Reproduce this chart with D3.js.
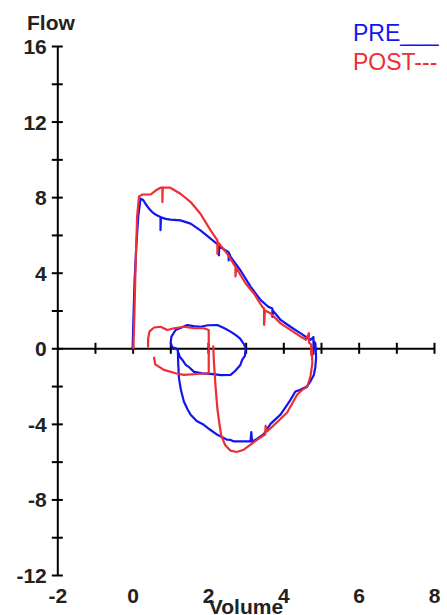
<!DOCTYPE html>
<html>
<head>
<meta charset="utf-8">
<script src="https://cdn.jsdelivr.net/npm/d3@7"></script>
<style>
  html, body { margin: 0; padding: 0; background: #fff; }
  svg { display: block; }
</style>
</head>
<body>
<script>
// ---- data: [volume, flow] pairs ----
const seriesNames = ["PRE", "POST"];
const xTickValues = [-2, 0, 2, 4, 6, 8];
const yTickValues = [-12, -10, -8, -6, -4, -2, 0, 2, 4, 6, 8, 10, 12, 14, 16];
const yTickLabels = [-12, -8, -4, 0, 4, 8, 12, 16];

const preExpiration = [[0,0],[0.02,1.5],[0.05,3.5],[0.1,5.5],[0.15,7.0],[0.21,7.92],[0.28,7.85],[0.34,7.65],[0.43,7.4],[0.52,7.21],[0.63,7.05],[0.74,6.95],[0.74,6.25],[0.75,6.93],[0.88,6.85],[1.0,6.81],[1.27,6.77],[1.54,6.6],[1.80,6.24],[2.07,5.8],[2.29,5.45],[2.29,4.92],[2.30,5.42],[2.45,5.2],[2.55,5.08],[2.55,4.65],[2.57,5.0],[2.6,4.84],[2.86,4.13],[3.13,3.26],[3.40,2.55],[3.6,2.2],[3.71,2.1],[3.71,1.66],[3.72,2.0],[3.93,1.5],[4.19,1.14],[4.46,0.79],[4.72,0.44],[4.8,0.6],[4.8,-0.3],[4.82,0.35],[4.85,0.26],[4.86,0.0]];
const preInspiration = [[4.86,0],[4.87,-0.5],[4.85,-1.0],[4.81,-1.41],[4.72,-1.75],[4.63,-2.02],[4.45,-2.2],[4.32,-2.29],[4.19,-2.73],[3.93,-3.5],[3.66,-4.0],[3.48,-4.55],[3.3,-4.8],[3.17,-4.93],[3.15,-4.44],[3.13,-4.93],[2.9,-4.93],[2.69,-4.93],[2.6,-4.85],[2.51,-4.84],[2.25,-4.58],[2.05,-4.3],[1.89,-4.05],[1.7,-3.85],[1.54,-3.52],[1.45,-3.2],[1.36,-2.82],[1.28,-2.2],[1.23,-1.58],[1.21,-0.8],[1.20,-0.1]];
const preTidal = [[1.20,-0.1],[1.15,0.0],[1.05,0.05],[1.01,0.3],[1.03,0.62],[1.14,0.97],[1.3,1.1],[1.45,1.23],[1.62,1.17],[1.8,1.14],[2.0,1.22],[2.25,1.23],[2.45,1.05],[2.6,0.88],[2.75,0.68],[2.86,0.5],[2.96,0.2],[3.0,0.0],[2.98,-0.4],[2.91,-0.6],[2.86,-0.88],[2.72,-1.2],[2.6,-1.41],[2.35,-1.42],[2.07,-1.35],[1.85,-1.33],[1.63,-1.25],[1.5,-1.0],[1.41,-0.88],[1.32,-0.62],[1.25,-0.45],[1.22,-0.25]];

const postExpiration = [[0.02,0],[0.05,2],[0.08,4.5],[0.12,7.0],[0.17,8.04],[0.26,8.14],[0.48,8.14],[0.61,8.35],[0.74,8.5],[0.79,8.5],[0.79,7.74],[0.80,8.5],[1.0,8.5],[1.27,8.18],[1.54,7.74],[1.80,7.12],[2.07,6.24],[2.25,5.71],[2.25,5.0],[2.27,5.6],[2.51,5.01],[2.73,4.31],[2.73,3.8],[2.75,4.25],[3.0,3.43],[3.22,2.9],[3.44,2.2],[3.49,2.1],[3.49,1.24],[3.51,2.0],[3.66,1.85],[3.93,1.32],[4.19,0.97],[4.46,0.62],[4.6,0.45],[4.68,0.8],[4.68,0.3],[4.74,0.2],[4.74,-0.35],[4.76,0.0]];
const postInspiration = [[4.76,-0.1],[4.77,-0.79],[4.72,-1.5],[4.63,-2.05],[4.5,-2.2],[4.37,-2.45],[4.1,-3.4],[3.84,-3.9],[3.57,-4.4],[3.53,-4.1],[3.52,-4.55],[3.3,-4.85],[3.13,-5.1],[2.95,-5.37],[2.76,-5.49],[2.6,-5.42],[2.45,-5.1],[2.35,-4.6],[2.29,-3.8],[2.25,-3.2],[2.2,-2.0],[2.16,-0.8],[2.14,0.1]];
const postTidalA = [[2.02,-1.32],[2.02,0.97],[1.89,1.06],[1.63,1.06],[1.36,1.14],[1.10,1.06],[0.92,0.97],[0.74,1.14],[0.57,1.1],[0.45,0.9],[0.41,0.5],[0.41,0.09]];
const postTidalB = [[0.57,-0.5],[0.6,-0.85],[0.83,-1.14],[1.14,-1.32],[1.36,-1.41],[1.72,-1.36],[2.02,-1.32]];

const preColor = "#1414f0";
const postColor = "#ee2e34";

// ---- drawing ----
const W = 447, H = 615;
const svg = d3.select("body").append("svg").attr("width", W).attr("height", H);

const x = d3.scaleLinear().domain([-2, 8]).range([57.3, 434]);
const y = d3.scaleLinear().domain([-12, 16]).range([575, 46]);

const font = "'Liberation Sans', Arial, sans-serif";

// Y axis
const yAxis = d3.axisLeft(y).tickValues(yTickValues)
  .tickFormat(d => yTickLabels.includes(d) ? d : "").tickSizeOuter(0).tickPadding(11);
const gy = svg.append("g").attr("transform", `translate(${x(-2)},0)`).call(yAxis);
gy.select(".domain").attr("stroke", "#000").attr("stroke-width", 2);
gy.selectAll(".tick line").attr("x1", -5.5).attr("x2", 5.5).attr("stroke", "#000").attr("stroke-width", 2);
gy.selectAll(".tick text").attr("font-family", font).attr("font-weight", "bold")
  .attr("font-size", 21).attr("fill", "#222").attr("x", -10.5).attr("dy", "0.36em");

// X axis (line with crossing ticks)
const xAxis = d3.axisBottom(x).tickValues(d3.range(-1, 9, 1)).tickFormat("").tickSizeOuter(0);
const gx = svg.append("g").attr("transform", `translate(0,${y(0)})`).call(xAxis);
gx.select(".domain").attr("stroke", "#000").attr("stroke-width", 2);
gx.selectAll(".tick line").attr("y1", -5.5).attr("y2", 5.5).attr("stroke", "#000").attr("stroke-width", 2);

// X tick labels along the bottom
const xLab = d3.axisBottom(x).tickValues(xTickValues).tickSize(0).tickFormat(d => d);
const gxl = svg.append("g").attr("transform", `translate(0,588)`).call(xLab);
gxl.select(".domain").remove();
gxl.selectAll(".tick text").attr("font-family", font).attr("font-weight", "bold")
  .attr("font-size", 21).attr("fill", "#222").attr("y", 0).attr("dy", "0.71em");

// Axis titles
svg.append("text").attr("x", 27).attr("y", 30).text("Flow")
  .attr("font-family", font).attr("font-weight", "bold").attr("font-size", 21).attr("fill", "#222");
svg.append("text").attr("x", 246).attr("y", 614).attr("text-anchor", "middle").text("Volume")
  .attr("font-family", font).attr("font-weight", "bold").attr("font-size", 21).attr("fill", "#222");

// Curves
const line = d3.line().x(d => x(d[0])).y(d => y(d[1]));
const curves = [
  [preExpiration, preColor], [preInspiration, preColor], [preTidal, preColor],
  [postExpiration, postColor], [postInspiration, postColor], [postTidalA, postColor], [postTidalB, postColor]
];
svg.append("g").selectAll("path").data(curves).join("path")
  .attr("d", d => line(d[0]))
  .attr("fill", "none")
  .attr("stroke", d => d[1])
  .attr("stroke-width", 2.2)
  .attr("stroke-linejoin", "round")
  .attr("stroke-linecap", "round");

// Legend
svg.append("text").attr("x", 353).attr("y", 41).text(seriesNames[0] + "___")
  .attr("font-family", font).attr("font-size", 23).attr("fill", preColor);
svg.append("text").attr("x", 353).attr("y", 70).text(seriesNames[1] + "---")
  .attr("font-family", font).attr("font-size", 23).attr("fill", postColor);
</script>
</body>
</html>
